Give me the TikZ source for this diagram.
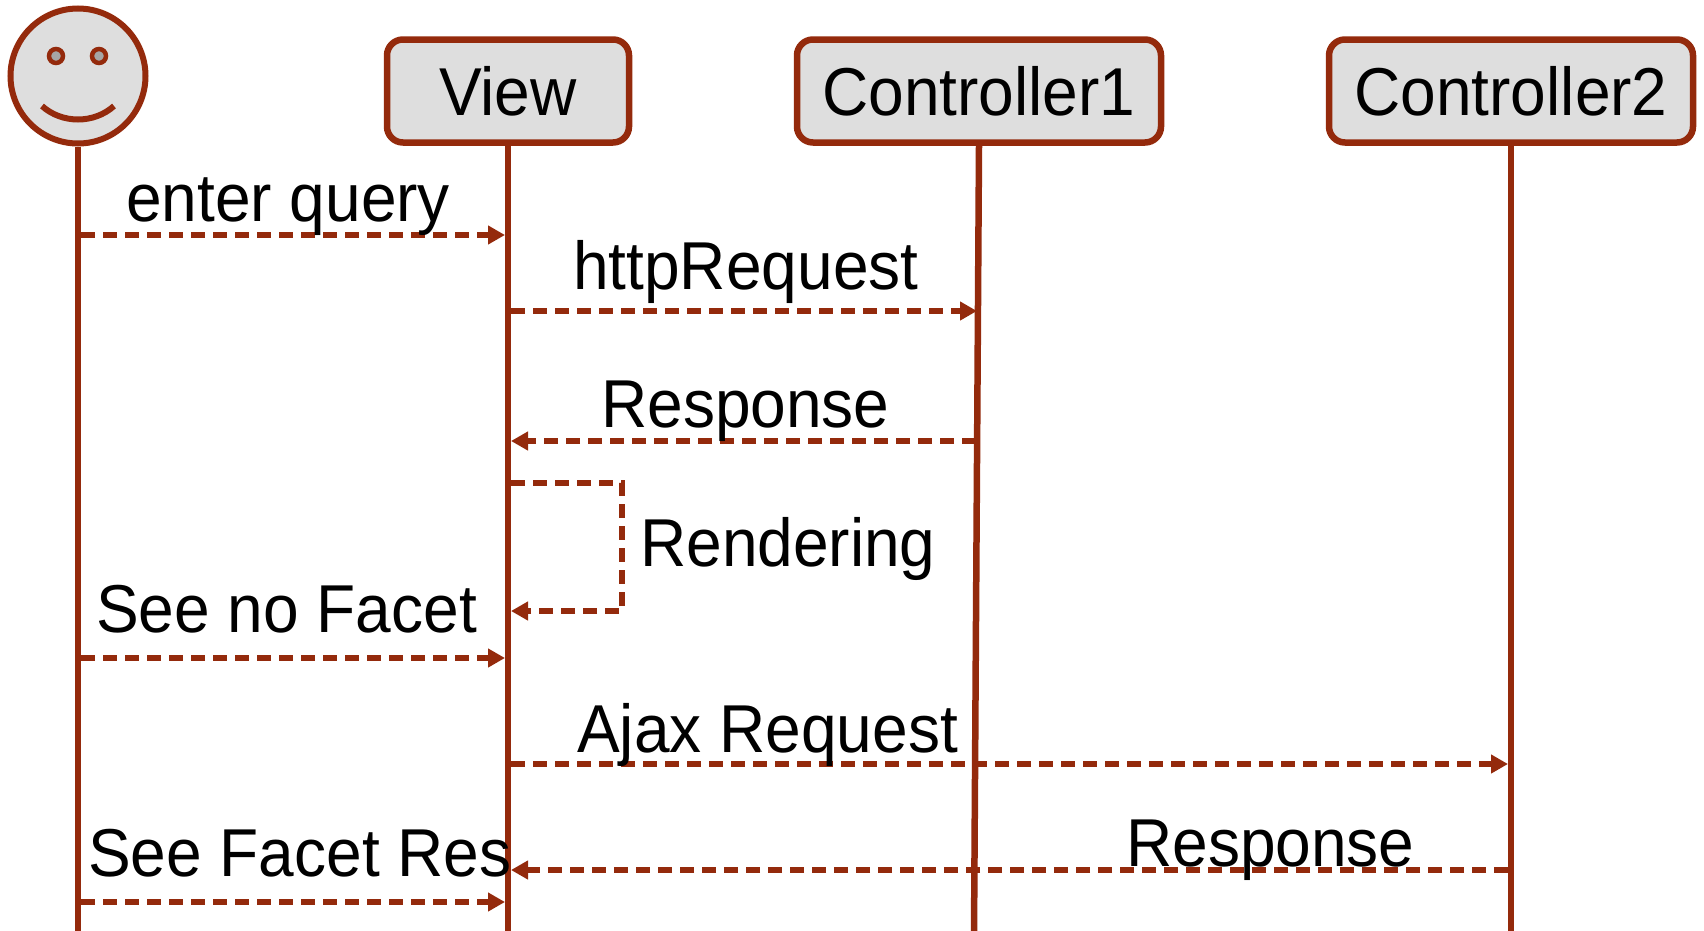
\documentclass[tikz,border=0pt]{standalone}
\usepackage{fontspec}
\setmainfont{Liberation Sans}[FakeStretch=0.945]
\usetikzlibrary{arrows.meta}
\definecolor{seqred}{RGB}{148,42,12}
\definecolor{boxgray}{RGB}{222,222,222}
\begin{document}
\begin{tikzpicture}[x=1bp,y=-1bp,
  lifebox/.style={draw=seqred, line width=6.5bp, fill=boxgray, rounded corners=16bp,
    minimum height=103bp, inner sep=0pt, text height=49bp, text depth=0pt,
    font=\fontsize{68}{80}\selectfont},
  lifeline/.style={draw=seqred, line width=6.5bp},
  msg/.style={draw=seqred, line width=6bp, dash pattern=on 14bp off 8bp,
    -{Triangle[length=17bp,width=18bp]}},
  lbl/.style={anchor=base west, inner sep=0pt, font=\fontsize{68}{80}\selectfont}
]
\useasboundingbox (0,0) rectangle (1704,930);

% actor
\node[circle, draw=seqred, line width=6bp, fill=boxgray, minimum size=135bp, inner sep=0pt] (actor) at (78,76) {};
\node[circle, draw=seqred, line width=4.5bp, fill=gray!70, minimum size=14bp, inner sep=0pt] (eyeL) at (56,56) {};
\node[circle, draw=seqred, line width=4.5bp, fill=gray!70, minimum size=14bp, inner sep=0pt] (eyeR) at (99,56) {};
\coordinate (smileL) at (42,106);
\coordinate (smileR) at (114,106);
\draw[seqred, line width=6bp] (smileL) .. controls (62,124) and (94,124) .. (smileR);

% lifeline boxes
\node[lifebox, minimum width=242bp] (view) at (508,91) {View};
\node[lifebox, minimum width=364bp] (c1) at (979,91) {Controller1};
\node[lifebox, minimum width=364bp] (c2) at (1511,91) {Controller2};

% lifelines
\coordinate (actorEnd) at (78,935);
\coordinate (viewEnd) at (508,935);
\coordinate (c1End) at (974,935);
\coordinate (c2End) at (1511,935);
\draw[lifeline] (actor.south) -- (actorEnd);
\draw[lifeline] (view.south) -- (viewEnd);
\draw[lifeline] (c1.south) -- (c1End);
\draw[lifeline] (c2.south) -- (c2End);

% message end points
\coordinate (a1) at (81,235);   \coordinate (v1) at (505,235);
\coordinate (v2) at (511,311);  \coordinate (k2) at (977,311);
\coordinate (k3) at (976,441);  \coordinate (v3) at (511,441);
\coordinate (v4) at (511,483);  \coordinate (r4) at (622,483);
\coordinate (r5) at (622,611);  \coordinate (v5) at (511,611);
\coordinate (a6) at (81,658);   \coordinate (v6) at (505,658);
\coordinate (v7) at (511,764);  \coordinate (k7) at (1508,764);
\coordinate (k8) at (1508,870); \coordinate (v8) at (511,870);
\coordinate (a9) at (81,902);   \coordinate (v9) at (505,902);

% messages
\draw[msg] (a1) -- (v1);
\draw[msg] (v2) -- (k2);
\draw[msg] (k3) -- (v3);
\draw[msg] (v4) -- (r4) -- (r5) -- (v5);
\draw[msg] (a6) -- (v6);
\draw[msg] (v7) -- (k7);
\draw[msg] (k8) -- (v8);
\draw[msg] (a9) -- (v9);

% labels
\node[lbl] (l1) at (126,221) {enter query};
\node[lbl] (l2) at (573,289) {httpRequest};
\node[lbl] (l3) at (601,427) {Response};
\node[lbl] (l4) at (640,566) {Rendering};
\node[lbl] (l5) at (96,632) {See no Facet};
\node[lbl] (l6) at (577,752) {Ajax Request};
\node[lbl] (l7) at (1126,866) {Response};
\node[lbl] (l8) at (88,876) {See Facet Res};
\end{tikzpicture}
\end{document}
